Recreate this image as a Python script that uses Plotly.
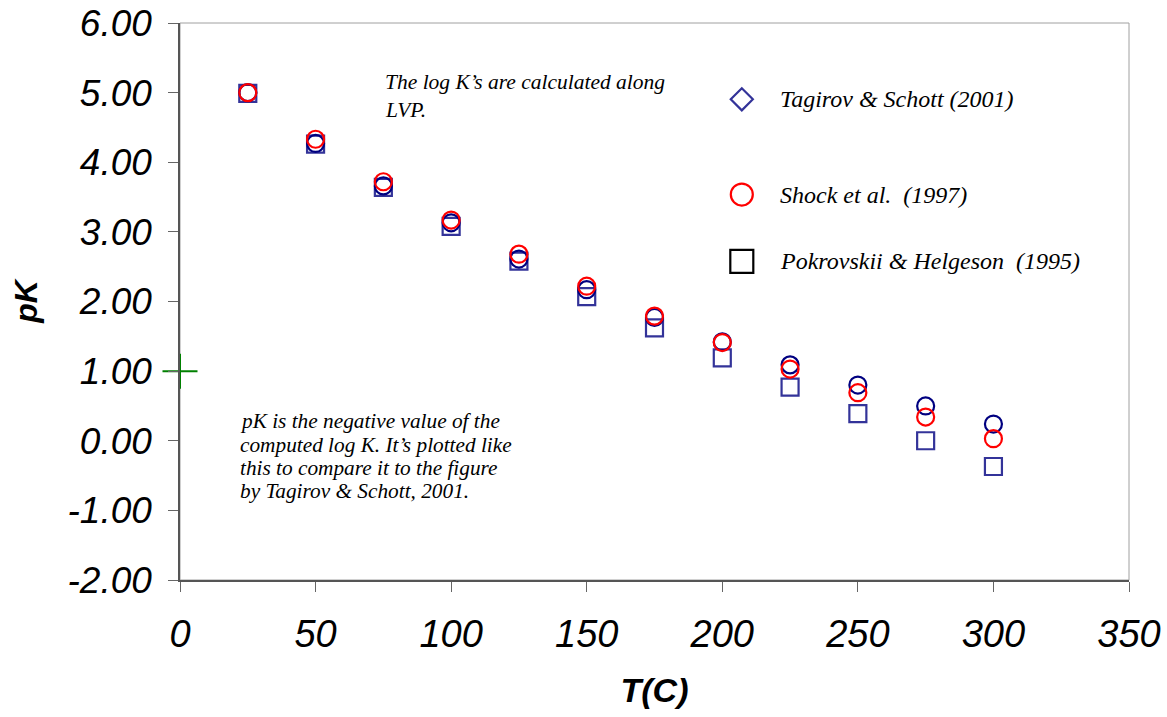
import plotly.graph_objects as go

# Temperatures (°C) along the liquid-vapour curve
temps = [25, 50, 75, 100, 125, 150, 175, 200, 225, 250, 275, 300]

# pK = -log K from the three sources plus the computed values
pk_computed = [5.00, 4.27, 3.66, 3.13, 2.61, 2.17, 1.77, 1.42, 1.09, 0.80, 0.50, 0.24]
pk_shock = [5.00, 4.33, 3.72, 3.17, 2.68, 2.22, 1.79, 1.41, 1.03, 0.69, 0.34, 0.03]
pk_pokrovskii = [4.99, 4.26, 3.64, 3.08, 2.58, 2.07, 1.62, 1.19, 0.77, 0.39, 0.00, -0.37]

# Single reference point sitting on the pK axis
ref_t = [0]
ref_pk = [1.00]

x_ticks = [0, 50, 100, 150, 200, 250, 300, 350]
y_ticks = [6, 5, 4, 3, 2, 1, 0, -1, -2]

legend_labels = ["Tagirov & Schott (2001)", "Shock et al.  (1997)", "Pokrovskii & Helgeson  (1995)"]

note_top = ["The log K\u2019s are calculated along", "LVP."]
note_bottom = [
    "pK is the negative value of the",
    "computed log K. It\u2019s plotted like",
    "this to compare it to the figure",
    "by Tagirov &amp; Schott, 2001.",
]

NAVY = "#000080"
RED = "#FF0000"
BLUE = "#333399"

fig = go.Figure()

fig.add_trace(go.Scatter(
    x=temps, y=pk_pokrovskii, mode="markers",
    marker=dict(symbol="square-open", size=17, color=BLUE, line=dict(width=2.2, color=BLUE)),
    showlegend=False))
fig.add_trace(go.Scatter(
    x=temps, y=pk_computed, mode="markers",
    marker=dict(symbol="circle-open", size=17, color=NAVY, line=dict(width=2.2, color=NAVY)),
    showlegend=False))
fig.add_trace(go.Scatter(
    x=temps, y=pk_shock, mode="markers",
    marker=dict(symbol="circle-open", size=17, color=RED, line=dict(width=2.2, color=RED)),
    showlegend=False))
fig.add_trace(go.Scatter(
    x=ref_t, y=ref_pk, mode="markers", cliponaxis=False,
    marker=dict(symbol="cross-thin-open", size=25, color="#008000", line=dict(width=2, color="#008000")),
    showlegend=False))

# Hand-placed key: symbols on an overlay axis spanning the plot area
key_x = [0.592, 0.592, 0.592]
key_y = [0.863, 0.692, 0.572]
key_symbols = ["diamond-open", "circle-open", "square-open"]
key_colors = [BLUE, RED, "#000000"]
key_sizes = [17, 22, 23]
for kx, ky, sym, col, sz in zip(key_x, key_y, key_symbols, key_colors, key_sizes):
    fig.add_trace(go.Scatter(
        x=[kx], y=[ky], xaxis="x2", yaxis="y2", mode="markers", cliponaxis=False,
        marker=dict(symbol=sym, size=sz, color=col, line=dict(width=2.2, color=col)),
        showlegend=False, hoverinfo="skip"))

serif_it = dict(family="Liberation Serif, Times New Roman, serif", color="#000000")
for label, ky in zip(legend_labels, key_y):
    fig.add_annotation(
        x=0.63, y=ky, xref="paper", yref="paper", xanchor="left", yanchor="middle",
        text=f"<i>{label}</i>", showarrow=False, font=dict(size=24, **serif_it))

# Text notes, one annotation per line
top_y = [0.894, 0.844]
for line, ly in zip(note_top, top_y):
    fig.add_annotation(
        x=0.214, y=ly, xref="paper", yref="paper", xanchor="left", yanchor="middle",
        text=f"<i>{line}</i>", showarrow=False, font=dict(size=21.5, **serif_it))

bottom_y = [0.286, 0.243, 0.201, 0.160]
for line, ly in zip(note_bottom, bottom_y):
    fig.add_annotation(
        x=0.061, y=ly, xref="paper", yref="paper", xanchor="left", yanchor="middle",
        text=f"<i>{line}</i>", showarrow=False, font=dict(size=21.3, **serif_it))

# Plot-area frame
fig.add_shape(type="rect", xref="paper", yref="paper", x0=0, y0=0, x1=1, y1=1,
              line=dict(color="#a0a0a0", width=1), layer="below")

sans = "Liberation Sans, Arial, sans-serif"
fig.update_layout(
    width=1167, height=717,
    margin=dict(l=180, r=38, t=23, b=137, autoexpand=False),
    paper_bgcolor="#ffffff", plot_bgcolor="#ffffff",
    xaxis=dict(
        range=[0, 350], tickvals=x_ticks, ticktext=[f"<i>{v}</i>" for v in x_ticks],
        showgrid=False, zeroline=False, showline=True, linecolor="#555555", linewidth=1.5,
        ticks="outside", ticklen=10, tickcolor="#666666", ticklabelstandoff=10,
        automargin=False,
        tickfont=dict(family=sans, size=38, color="#000000"),
        title=dict(text="<b><i>T(C)</i></b>", font=dict(family=sans, size=34, color="#000000"), standoff=24),
    ),
    yaxis=dict(
        range=[-2, 6], tickvals=y_ticks, ticktext=[f"<i>{v:.2f}</i>" for v in y_ticks],
        showgrid=False, zeroline=False, showline=True, linecolor="#555555", linewidth=1.5,
        ticks="outside", ticklen=10, tickcolor="#666666", ticklabelstandoff=9,
        automargin=False,
        tickfont=dict(family=sans, size=37, color="#000000"),
        title=dict(text="<b><i>pK</i></b>", font=dict(family=sans, size=32, color="#000000"), standoff=20),
    ),
    xaxis2=dict(overlaying="x", range=[0, 1], visible=False, fixedrange=True),
    yaxis2=dict(overlaying="y", range=[0, 1], visible=False, fixedrange=True),
)

fig.write_html("out.html")
